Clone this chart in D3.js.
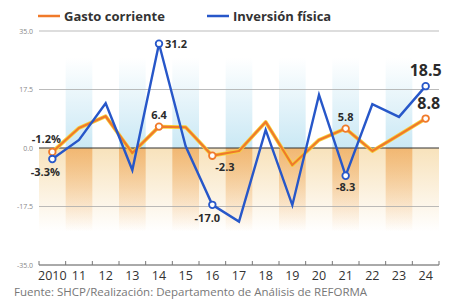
<!DOCTYPE html>
<html>
<head>
<meta charset="utf-8">
<script src="https://cdn.jsdelivr.net/npm/d3@7"></script>
<style>
  body { margin: 0; background: #fff; }
  svg { display: block; font-family: "Open Sans", "Noto Sans", sans-serif; }
</style>
</head>
<body>
<div id="chart"></div>
<script>
const years = ["2010", "11", "12", "13", "14", "15", "16", "17", "18", "19", "20", "21", "22", "23", "24"];
const gasto = [-1.2, 6.0, 9.5, -1.5, 6.4, 6.2, -2.3, -0.9, 7.8, -5.1, 2.4, 5.8, -0.9, 3.9, 8.8];
const inversion = [-3.3, 2.4, 13.4, -6.6, 31.2, 0.5, -17.0, -22.0, 5.4, -17.1, 15.9, -8.3, 13.1, 9.3, 18.5];
const yTicks = [35, 17.5, 0, -17.5, -35];

// labelled points: index, series, text, dx, dy, anchor, size
const labels = [
    { i: 0, s: "g", t: "-1.2%", dx: -6, dy: -9, a: "middle", f: 11 },
    { i: 0, s: "i", t: "-3.3%", dx: -7, dy: 17, a: "middle", f: 11 },
    { i: 4, s: "i", t: "31.2", dx: 6, dy: 4, a: "start", f: 11 },
    { i: 4, s: "g", t: "6.4", dx: 0, dy: -8, a: "middle", f: 11 },
    { i: 6, s: "g", t: "-2.3", dx: 3, dy: 15, a: "start", f: 11 },
    { i: 6, s: "i", t: "-17.0", dx: -5, dy: 17, a: "middle", f: 11 },
    { i: 11, s: "g", t: "5.8", dx: 0, dy: -8, a: "middle", f: 11 },
    { i: 11, s: "i", t: "-8.3", dx: 0, dy: 15, a: "middle", f: 11 },
    { i: 14, s: "i", t: "18.5", dx: 0, dy: -10, a: "middle", f: 16 },
    { i: 14, s: "g", t: "8.8", dx: 3, dy: -10, a: "middle", f: 16 }
];

const width = 454, height = 300;
const orange = "#f07a2a", blue = "#2757c9";

const svg = d3.select("#chart").append("svg")
    .attr("width", width)
    .attr("height", height);

const x = d3.scaleBand().domain(years).range([39, 439]);
const y = d3.scaleLinear().domain([-35, 35]).range([265, 31]);
const cx = d => x(d) + x.bandwidth() / 2;

// gradients for the background bands
const defs = svg.append("defs");
function grad(id, c, up, o) {
    const g = defs.append("linearGradient").attr("id", id)
        .attr("x1", 0).attr("x2", 0).attr("y1", up ? 1 : 0).attr("y2", up ? 0 : 1);
    g.append("stop").attr("offset", 0).attr("stop-color", c).attr("stop-opacity", o);
    g.append("stop").attr("offset", 1).attr("stop-color", c).attr("stop-opacity", 0);
}
grad("blueUp", "#9fd6ec", true, 0.55);
grad("orgDown", "#eea04a", false, 0.65);
grad("begDown", "#f3cf8e", false, 0.6);

svg.append("rect")
    .attr("x", x.range()[0]).attr("y", y(0))
    .attr("width", x.range()[1] - x.range()[0]).attr("height", y(-25) - y(0))
    .attr("fill", "url(#begDown)");

const odd = years.filter((d, i) => i % 2 === 1);
svg.append("g").selectAll("rect").data(odd).enter().append("rect")
    .attr("x", d => x(d)).attr("y", y(27))
    .attr("width", x.bandwidth()).attr("height", y(0) - y(27))
    .attr("fill", "url(#blueUp)");
svg.append("g").selectAll("rect").data(odd).enter().append("rect")
    .attr("x", d => x(d)).attr("y", y(0))
    .attr("width", x.bandwidth()).attr("height", y(-25) - y(0))
    .attr("fill", "url(#orgDown)");

// grid lines
svg.append("g").selectAll("line").data(yTicks).enter().append("line")
    .attr("x1", x.range()[0]).attr("x2", x.range()[1])
    .attr("y1", d => y(d)).attr("y2", d => y(d))
    .attr("stroke", d => d === 0 ? "#333" : "#aaa")
    .attr("stroke-width", d => d === 0 ? 1.2 : 0.8);

svg.append("g").selectAll("text").data(yTicks).enter().append("text")
    .attr("x", 33).attr("y", d => y(d) + 2.5)
    .attr("text-anchor", "end")
    .attr("font-size", 7).attr("fill", "#888")
    .text(d => d.toFixed(1));

// bottom axis
const xAxis = svg.append("g")
    .attr("transform", `translate(0,${y(-35)})`);
xAxis.append("line").attr("x1", 39).attr("x2", 439).attr("stroke", "#777");
xAxis.selectAll(".tk").data(d3.range(years.length + 1)).enter().append("line")
    .attr("x1", i => 39 + i * x.step()).attr("x2", i => 39 + i * x.step())
    .attr("y1", 0).attr("y2", -4).attr("stroke", "#777");
xAxis.selectAll("text").data(years).enter().append("text")
    .attr("x", d => cx(d)).attr("y", 15)
    .attr("text-anchor", "middle")
    .attr("font-size", 12.5).attr("fill", "#333")
    .text(d => d);

// lines
const line = d3.line().x((d, i) => cx(years[i])).y(d => y(d));
svg.append("path").datum(gasto)
    .attr("d", line).attr("fill", "none")
    .attr("stroke", "#f6d23c").attr("stroke-width", 3.8).attr("stroke-linejoin", "round");
svg.append("path").datum(gasto)
    .attr("d", line).attr("fill", "none")
    .attr("stroke", orange).attr("stroke-width", 2.2).attr("stroke-linejoin", "round");
svg.append("path").datum(inversion)
    .attr("d", line).attr("fill", "none")
    .attr("stroke", blue).attr("stroke-width", 2.4).attr("stroke-linejoin", "miter");

// markers and labels
const val = l => (l.s === "g" ? gasto : inversion)[l.i];
svg.append("g").selectAll("circle").data(labels).enter().append("circle")
    .attr("cx", l => cx(years[l.i])).attr("cy", l => y(val(l)))
    .attr("r", 3.3).attr("fill", "#fff")
    .attr("stroke", l => l.s === "g" ? orange : blue).attr("stroke-width", 1.8);

svg.append("g").selectAll("text").data(labels).enter().append("text")
    .attr("x", l => cx(years[l.i]) + l.dx).attr("y", l => y(val(l)) + l.dy)
    .attr("text-anchor", l => l.a)
    .attr("font-size", l => l.f).attr("font-weight", "bold")
    .attr("fill", "#2b2b2b")
    .text(l => l.t);

// legend
const legend = [{ t: "Gasto corriente", c: orange, x: 38 }, { t: "Inversión física", c: blue, x: 207 }];
const lg = svg.append("g").selectAll("g").data(legend).enter().append("g")
    .attr("transform", d => `translate(${d.x},16)`);
lg.append("line").attr("x1", 0).attr("x2", 22).attr("stroke", d => d.c).attr("stroke-width", 2.5);
lg.append("text").attr("x", 26).attr("y", 4.5)
    .attr("font-size", 13).attr("font-weight", "bold").attr("fill", "#333")
    .text(d => d.t);

// source
svg.append("text").attr("x", 14).attr("y", 296)
    .attr("font-size", 11.5).attr("fill", "#777")
    .text("Fuente: SHCP/Realización: Departamento de Análisis de REFORMA");
</script>
</body>
</html>
